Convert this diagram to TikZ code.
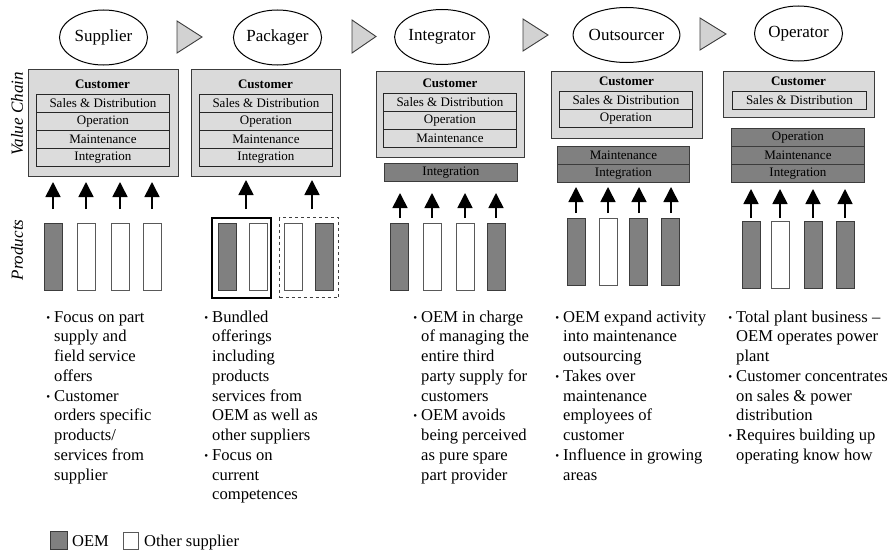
\documentclass[tikz,border=0pt]{standalone}
\usepackage{fontspec}
\setmainfont{Liberation Serif}
\usetikzlibrary{shapes.geometric,arrows.meta}

\definecolor{panelgray}{HTML}{DADADA}
\definecolor{rowgray}{HTML}{DCDCDC}
\definecolor{oemgray}{HTML}{808080}
\definecolor{chevgray}{HTML}{D2D2D2}
\definecolor{edgegray}{HTML}{3C3C3C}

% bullet placed in the left margin of a description line
\newcommand{\bl}{\leavevmode\llap{\raisebox{0.05em}{\fontsize{11}{11}\selectfont\textbullet}\hspace{4pt}}}
\newcommand{\desctext}[1]{\parbox[t]{175pt}{\fontsize{16.6}{19.75}\selectfont #1}}

\begin{document}
\begin{tikzpicture}[x=1pt,y=-1pt,
  stage/.style={ellipse, draw, line width=1pt, minimum width=88pt, minimum height=55pt,
    inner sep=0pt, font=\fontsize{17}{17}\selectfont},
  chev/.style={draw=edgegray, fill=chevgray, line width=0.9pt, line join=miter},
  panel/.style={draw=edgegray, fill=panelgray, line width=0.9pt, anchor=north west, inner sep=0pt},
  custlabel/.style={font=\fontsize{13}{13}\selectfont\bfseries, inner sep=0pt},
  row/.style={draw=black!85, fill=rowgray, line width=0.9pt, anchor=north west, inner sep=0pt,
    minimum height=18pt, font=\fontsize{13}{13}\selectfont},
  oemrow/.style={row, fill=oemgray, draw=edgegray},
  bar/.style={draw=edgegray, line width=1.1pt, anchor=north west, inner sep=0pt,
    minimum width=18pt, minimum height=67pt},
  oembar/.style={bar, fill=oemgray},
  otherbar/.style={bar, fill=white, draw=black!65},
  uparrow/.style={-{Triangle[width=15pt,length=15pt]}, line width=1.6pt},
  desc/.style={anchor=base west, inner sep=0pt},
  sidelabel/.style={rotate=90, font=\fontsize{17}{17}\selectfont\itshape, inner sep=0pt},
  legendtext/.style={anchor=base west, inner sep=0pt, font=\fontsize{16.5}{16.5}\selectfont}
]
\useasboundingbox (0,0) rectangle (893,551);

% ---- stages ----
\node[stage] (supplier)   at (103.5,37.5) {Supplier};
\node[stage] (packager)   at (277.5,37.5) {Packager};
\node[stage] (integrator) at (442,37)     {Integrator};
\node[stage] (outsourcer) at (626.5,35)   {Outsourcer};
\node[stage] (operator)   at (798.5,33.5) {Operator};

% ---- transition chevrons ----
\draw[chev] (177,21) -- (202,37) -- (177,53) -- cycle;
\draw[chev] (352,20) -- (376,36.5) -- (352,53) -- cycle;
\draw[chev] (523,19) -- (548,35) -- (523,51) -- cycle;
\draw[chev] (700,18) -- (726,34) -- (700,50) -- cycle;

% ---- side labels ----
\node[sidelabel] (vc-label)   at (17,114) {Value Chain};
\node[sidelabel] (prod-label) at (17,250) {Products};

% ---- Supplier value chain ----
\node[panel, minimum width=150pt, minimum height=107pt] (sup-box) at (28,69) {};
\node[custlabel] (sup-cust) at (102.5,84) {Customer};
\node[row, minimum width=133pt] (sup-sd)  at (36,94)  {Sales \& Distribution};
\node[row, minimum width=133pt] (sup-op)  at (36,112) {Operation};
\node[row, minimum width=133pt] (sup-mt)  at (36,130) {Maintenance};
\node[row, minimum width=133pt] (sup-int) at (36,148) {Integration};

% ---- Packager value chain ----
\node[panel, minimum width=149pt, minimum height=107pt] (pac-box) at (191,69) {};
\node[custlabel] (pac-cust) at (265.5,84) {Customer};
\node[row, minimum width=133pt] (pac-sd)  at (199,94)  {Sales \& Distribution};
\node[row, minimum width=133pt] (pac-op)  at (199,112) {Operation};
\node[row, minimum width=133pt] (pac-mt)  at (199,130) {Maintenance};
\node[row, minimum width=133pt] (pac-int) at (199,148) {Integration};

% ---- Integrator value chain ----
\node[panel, minimum width=148pt, minimum height=86pt] (int-box) at (376,71) {};
\node[custlabel] (int-cust) at (450,83) {Customer};
\node[row, minimum width=133pt] (int-sd)  at (383,93)  {Sales \& Distribution};
\node[row, minimum width=133pt] (int-op)  at (383,111) {Operation};
\node[row, minimum width=133pt] (int-mt)  at (383,129) {Maintenance};
\node[oemrow, minimum width=133pt] (int-int) at (384,163) {Integration};

% ---- Outsourcer value chain ----
\node[panel, minimum width=151pt, minimum height=67pt] (out-box) at (551,71) {};
\node[custlabel] (out-cust) at (626.5,81) {Customer};
\node[row, minimum width=133pt] (out-sd)  at (559,91)  {Sales \& Distribution};
\node[row, minimum width=133pt] (out-op)  at (559,109) {Operation};
\node[oemrow, minimum width=132pt] (out-mt)  at (557,146) {Maintenance};
\node[oemrow, minimum width=132pt] (out-int) at (557,164) {Integration};

% ---- Operator value chain ----
\node[panel, minimum width=151pt, minimum height=46pt] (opr-box) at (723,71) {};
\node[custlabel] (opr-cust) at (798.5,81) {Customer};
\node[row, minimum width=134pt] (opr-sd)  at (732,91)  {Sales \& Distribution};
\node[oemrow, minimum width=133pt] (opr-op)  at (731,128) {Operation};
\node[oemrow, minimum width=133pt] (opr-mt)  at (731,146) {Maintenance};
\node[oemrow, minimum width=133pt] (opr-int) at (731,164) {Integration};

% ---- products ----
\node[oembar]   (sup-p1) at (44,223)  {};
\node[otherbar] (sup-p2) at (77,223)  {};
\node[otherbar] (sup-p3) at (111,223) {};
\node[otherbar] (sup-p4) at (143,223) {};

\node[draw, line width=1.8pt, anchor=north west, inner sep=0pt, minimum width=59pt, minimum height=80pt] (pac-bundle1) at (211,217) {};
\node[draw=black!75, dashed, line width=1.3pt, anchor=north west, inner sep=0pt, minimum width=59pt, minimum height=80pt] (pac-bundle2) at (279,217) {};
\node[oembar]   (pac-p1) at (218,223) {};
\node[otherbar] (pac-p2) at (249,223) {};
\node[otherbar] (pac-p3) at (284,223) {};
\node[oembar]   (pac-p4) at (315,223) {};

\node[oembar]   (int-p1) at (390,223) {};
\node[otherbar] (int-p2) at (423,223) {};
\node[otherbar] (int-p3) at (456,223) {};
\node[oembar]   (int-p4) at (487,223) {};

\node[oembar]   (out-p1) at (567,218) {};
\node[otherbar] (out-p2) at (599,218) {};
\node[oembar]   (out-p3) at (629,218) {};
\node[oembar]   (out-p4) at (661,218) {};

\node[oembar]   (opr-p1) at (742,221) {};
\node[otherbar] (opr-p2) at (771,221) {};
\node[oembar]   (opr-p3) at (804,221) {};
\node[oembar]   (opr-p4) at (836,221) {};

% ---- contribution arrows (base y, tip y) ----
\foreach \s/\base/\tip/\xs in {sup/209/182/{53,86,120,152},
                               pac/209/180/{246,312},
                               int/218/193/{400,432,465,496},
                               out/213/187/{576,608,639,671},
                               opr/218/189/{751,780,813,845}}{
  \foreach \x [count=\i] in \xs {
    \coordinate (\s-a\i-base) at (\x,\base);
    \coordinate (\s-a\i-tip)  at (\x,\tip);
    \draw[uparrow] (\s-a\i-base) -- (\s-a\i-tip);
  }
}

% ---- descriptions ----
\node[desc] (sup-txt) at (54,322) {\desctext{%
\bl Focus on part\\ supply and\\ field service\\ offers\\
\bl Customer\\ orders specific\\ products/\\ services from\\ supplier}};

\node[desc] (pac-txt) at (212,322) {\desctext{%
\bl Bundled\\ offerings\\ including\\ products\\ services from\\ OEM as well as\\ other suppliers\\
\bl Focus on\\ current\\ competences}};

\node[desc] (int-txt) at (421,322) {\desctext{%
\bl OEM in charge\\ of managing the\\ entire third\\ party supply for\\ customers\\
\bl OEM avoids\\ being perceived\\ as pure spare\\ part provider}};

\node[desc] (out-txt) at (563,322) {\desctext{%
\bl OEM expand activity\\ into maintenance\\ outsourcing\\
\bl Takes over\\ maintenance\\ employees of\\ customer\\
\bl Influence in growing\\ areas}};

\node[desc] (opr-txt) at (736,322) {\desctext{%
\bl Total plant business –\\ OEM operates power\\ plant\\
\bl Customer concentrates\\ on sales \& power\\ distribution\\
\bl Requires building up\\ operating know how}};

% ---- legend ----
\node[oembar, minimum width=17pt, minimum height=18pt] (leg-oem) at (50,531) {};
\node[legendtext] (leg-oem-txt) at (72,546) {OEM};
\node[otherbar, minimum width=15pt, minimum height=17pt] (leg-other) at (123,532) {};
\node[legendtext] (leg-other-txt) at (144,546) {Other supplier};
\end{tikzpicture}
\end{document}
